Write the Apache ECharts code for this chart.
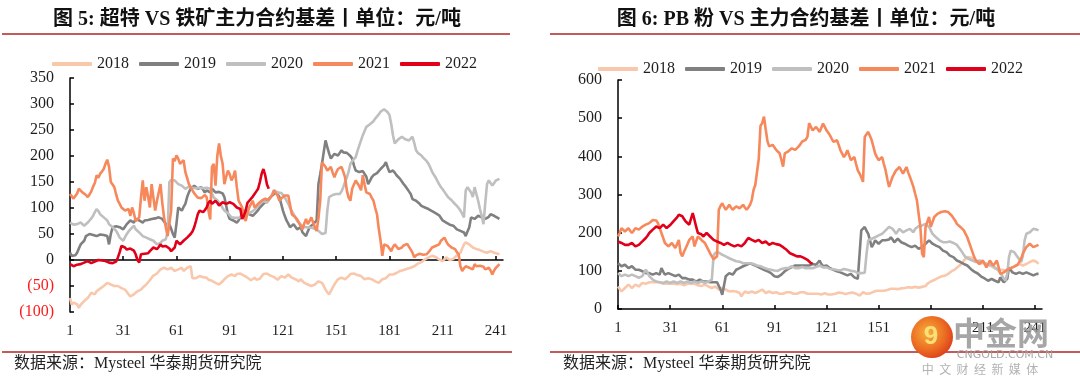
<!DOCTYPE html>
<html><head><meta charset="utf-8">
<script src="https://cdn.jsdelivr.net/npm/echarts@6/dist/echarts.min.js"></script>
<style>html,body{margin:0;padding:0;background:#fff}#c{width:1080px;height:388px}</style>
</head><body><div id="c"></div>
<script>
const days = []; for (let i = 1; i <= 245; i++) days.push(String(i));
const years = ['2018', '2019', '2020', '2021', '2022'];
const titleLeft = '图 5: 超特 VS 铁矿主力合约基差丨单位：元/吨';
const titleRight = '图 6: PB 粉 VS 主力合约基差丨单位：元/吨';
const sourceText = '数据来源：Mysteel 华泰期货研究院';

// Left chart: 超特 VS 铁矿
const L2018 = [-73,-86,-82,-79,-85,-92,-86,-83,-79,-76,
-73,-68,-63,-65,-66,-60,-57,-55,-54,-50,
-47,-44,-46,-47,-49,-50,-51,-50,-52,-54,
-55,-57,-61,-66,-70,-73,-66,-63,-60,-58,
-57,-53,-50,-47,-44,-39,-34,-30,-28,-26,
-24,-18,-17,-15,-16,-18,-16,-15,-18,-21,
-19,-18,-16,-15,-21,-18,-15,-13,-12,-35,
-37,-35,-33,-31,-31,-33,-34,-34,-38,-41,
-40,-41,-44,-46,-47,-44,-41,-37,-34,-31,
-30,-28,-30,-31,-27,-24,-26,-28,-30,-31,
-34,-37,-39,-41,-34,-38,-41,-36,-31,-27,
-24,-26,-28,-30,-31,-33,-34,-38,-41,-31,
-33,-34,-31,-28,-31,-34,-36,-37,-39,-41,
-37,-40,-44,-45,-47,-49,-50,-48,-47,-44,
-41,-43,-44,-50,-57,-62,-66,-60,-53,-47,
-42,-37,-35,-34,-36,-37,-34,-31,-27,-24,
-26,-28,-29,-28,-31,-34,-37,-36,-35,-34,
-37,-39,-41,-43,-44,-41,-37,-36,-35,-34,
-28,-29,-28,-28,-25,-23,-21,-20,-19,-18,
-17,-16,-15,-13,-12,-10,-7,-5,-4,-2,
1,3,5,7,8,8,6,3,1,-1,
-2,1,5,3,0,-2,2,5,9,12,
14,22,30,34,37,30,27,24,22,21,
20,19,17,16,15,14,16,17,16,14,
13,12,11];
const L2019 = [14,8,5,9,14,22,30,33,37,46,
48,50,50,48,47,46,48,49,50,48,
47,46,30,50,63,64,65,66,63,61,
59,64,69,72,76,74,72,79,78,76,
74,72,76,79,77,76,79,82,80,79,
82,85,79,74,69,68,69,60,50,43,
70,101,98,95,102,108,121,130,137,140,
143,140,137,139,140,135,130,134,137,130,
137,134,130,127,131,134,128,121,105,88,
79,78,76,74,72,76,82,88,95,94,
92,88,86,85,88,92,96,101,104,108,
111,114,117,121,124,127,131,134,121,108,
95,85,76,70,63,66,69,64,59,61,
63,53,50,46,55,63,66,69,72,76,
146,165,185,208,230,217,205,195,200,204,
202,201,206,211,207,204,206,208,200,195,
182,172,170,169,170,171,172,160,146,152,
159,163,166,167,169,175,178,182,188,178,
169,170,172,168,163,160,156,151,146,142,
137,132,127,117,116,114,111,108,104,101,
101,101,98,95,94,92,90,88,86,85,
76,74,72,69,68,67,66,63,59,58,
56,55,53,46,55,63,82,80,79,82,
85,84,82,80,79,79,83,88,86,85,
83,81,79];
const L2020 = [72,70,68,66,69,71,72,70,66,68,
72,76,80,85,92,98,94,88,85,82,
79,76,69,66,63,60,56,50,43,40,
37,44,50,55,59,62,66,59,56,53,
50,46,45,43,42,40,38,37,34,30,
31,33,37,38,40,53,150,154,152,153,
150,146,145,143,140,137,140,141,140,139,
140,138,137,139,140,138,137,139,140,137,
128,120,117,115,112,106,100,95,92,90,
86,82,80,81,79,81,83,85,87,88,
89,90,90,94,97,100,104,108,111,114,
112,110,115,120,127,134,132,130,128,129,
127,121,114,108,100,94,88,82,75,72,
68,66,63,62,63,63,62,61,60,58,
56,55,50,51,52,95,121,123,125,126,
127,128,127,132,140,150,159,170,185,190,
192,198,210,220,230,240,248,256,258,261,
263,267,272,275,280,285,288,290,288,284,
279,262,240,224,228,232,235,237,234,232,
231,230,233,237,225,211,206,203,201,197,
194,190,185,178,170,164,159,152,146,140,
136,131,126,121,118,115,111,108,104,100,
95,89,82,134,140,143,130,121,140,127,
114,98,85,69,110,146,153,150,143,148,
153,154,156];
const L2021 = [127,124,118,117,128,137,134,130,127,125,
121,126,132,141,148,163,158,166,170,175,
185,193,179,150,145,140,126,114,108,101,
98,95,97,98,85,101,90,75,78,82,
120,153,114,140,122,101,146,120,95,114,
130,146,110,82,63,46,70,95,195,190,
201,195,185,188,192,169,158,146,140,134,
128,124,120,117,119,121,125,121,95,78,
179,185,143,200,224,200,185,146,160,172,
165,153,160,172,140,114,108,101,85,75,
90,101,108,114,101,104,108,110,114,116,
118,121,116,114,125,134,128,124,114,118,
121,124,127,124,121,88,85,82,78,72,
65,59,70,79,69,75,82,72,63,56,
80,114,188,185,179,172,169,179,168,159,
168,175,178,179,170,159,134,120,114,137,
145,153,150,142,134,163,145,130,128,127,
120,114,100,88,60,37,8,30,28,27,
22,17,25,30,26,21,22,24,28,30,
31,30,20,14,5,9,11,12,11,10,
8,11,14,19,24,26,27,29,30,37,
40,43,36,30,27,24,22,21,15,11,
-12,-21,-16,-12,-14,-15,-17,-18,-8,-12,
-15,-11,-8,-13,-18,-16,-15,-20,-28,-20,
-15,-12,-8];
const L2022 = [-8,-10,-12,-11,-9,-10,-8,-7,-5,-3,
-2,-4,-6,-5,-3,-1,0,1,-1,-2,
-2,-3,-5,-4,-6,-8,-3,5,15,27,
28,24,20,17,22,24,18,11,0,-5,
11,14,12,11,13,17,20,24,22,21,
25,30,26,24,27,27,22,17,20,24,
37,34,30,33,37,40,43,46,50,55,
63,75,88,95,93,92,96,101,110,114,
108,108,114,110,105,108,111,109,108,110,
111,109,108,105,101,99,98,79,85,95,
110,114,117,122,127,132,137,150,166,175,
163,145,137];

// Right chart: PB 粉 VS 主力合约
const R2018 = [59,52,46,50,55,60,64,60,55,58,
64,62,59,63,68,64,66,68,70,72,
70,68,70,72,70,68,66,64,66,68,
66,64,66,68,65,64,66,64,62,64,
66,68,66,68,66,64,62,59,60,62,
64,61,59,57,55,57,59,56,51,53,
55,53,51,48,46,51,47,42,46,51,
42,33,40,46,44,42,44,46,44,42,
44,46,48,51,47,42,44,46,44,42,
46,44,42,40,38,40,42,44,46,44,
42,40,38,40,42,44,46,44,42,40,
38,40,42,40,38,40,42,38,40,41,
39,38,36,38,39,40,42,43,44,42,
40,39,40,42,44,43,44,40,37,35,
40,44,42,40,39,41,43,45,46,48,
47,48,49,48,48,50,52,53,52,53,
53,52,53,54,53,55,56,57,57,56,
57,58,57,56,57,58,57,60,66,70,
72,74,76,79,81,83,85,86,87,88,
92,96,99,101,104,108,112,114,120,127,
132,136,136,135,133,131,127,122,118,120,
123,120,118,116,114,112,109,106,101,103,
105,103,101,101,101,103,105,109,111,114,
116,118,116,114,116,118,120,123,125,127,
125,123,118];
const R2019 = [120,116,112,114,116,112,107,110,112,108,
103,103,103,101,99,97,94,94,94,92,
90,92,94,92,90,107,98,90,92,94,
92,90,88,86,88,90,86,81,81,81,
79,77,77,77,75,72,75,77,74,72,
72,72,72,70,68,70,72,70,68,51,
37,42,86,90,94,92,90,96,103,105,
107,110,112,114,116,118,120,118,116,114,
112,110,107,105,103,101,99,96,94,90,
86,81,84,86,90,94,99,103,105,107,
110,112,114,116,114,112,114,116,114,112,
114,116,118,120,116,112,127,118,112,109,
114,109,107,105,103,101,99,97,96,94,
92,90,88,90,92,88,83,81,79,83,
206,210,215,205,197,180,162,170,180,175,
171,176,180,184,180,175,182,188,182,175,
180,184,180,175,172,171,168,166,164,162,
164,166,162,158,160,162,166,171,176,180,
175,171,168,166,164,162,158,153,151,149,
145,140,138,136,131,127,125,123,120,118,
116,114,109,105,101,98,96,93,88,85,
83,80,79,74,77,79,76,74,72,70,
83,76,70,74,79,109,102,96,94,92,
94,96,94,92,94,96,94,92,90,88,
90,92,92];
const R2020 = [94,90,86,88,90,88,86,88,90,88,
86,84,82,81,86,90,103,95,86,82,
77,74,72,72,70,72,68,70,72,70,
68,70,72,70,68,70,72,70,68,70,
72,70,68,70,72,70,68,70,72,70,
68,70,72,75,77,140,147,151,148,145,
142,140,138,135,133,131,129,127,125,125,
124,122,120,120,120,121,120,120,118,116,
114,112,112,110,108,107,105,103,103,103,
101,99,100,103,105,107,107,107,107,110,
112,110,107,107,107,108,110,112,107,107,
107,107,107,108,110,112,114,111,109,109,
109,107,105,105,104,103,102,101,101,103,
105,104,103,101,100,101,99,97,94,92,
94,96,95,144,180,182,184,186,188,190,
193,195,197,201,206,210,215,212,210,204,
197,204,210,205,201,204,206,208,210,205,
201,210,215,217,219,219,220,223,219,215,
206,197,192,188,184,180,177,175,175,175,
180,177,175,173,171,168,162,156,149,142,
136,133,131,129,127,125,123,125,127,125,
123,120,118,118,116,114,112,109,105,101,
95,88,80,74,92,136,153,151,149,142,
136,130,123,140,180,197,199,201,205,210,
210,208,206];
const R2021 = [190,200,212,208,203,208,212,205,199,205,
212,210,208,212,216,218,221,223,225,229,
233,238,232,225,212,199,186,173,168,164,
168,173,166,160,170,181,147,138,150,160,
170,181,186,190,164,178,190,186,181,177,
173,164,155,146,138,130,125,138,260,270,
277,268,260,266,273,266,260,264,269,266,
264,268,273,266,260,266,273,286,312,325,
330,393,480,487,504,471,440,426,428,430,
424,417,412,408,391,373,408,410,413,417,
421,419,417,421,426,432,439,441,443,451,
487,490,468,470,477,471,464,475,486,477,
468,462,455,446,438,440,442,430,416,407,
398,405,416,403,390,394,398,380,363,355,
345,333,451,458,464,453,442,425,407,398,
390,394,398,380,363,340,320,333,346,355,
363,368,372,363,355,363,372,358,346,333,
320,302,285,250,215,145,136,215,228,241,
215,228,241,246,250,252,254,254,256,258,
254,250,245,241,232,223,219,215,210,206,
197,188,175,162,149,136,127,122,118,122,
127,118,109,118,127,120,114,120,127,110,
92,94,96,101,103,105,107,109,111,114,
116,118,132,145,154,162,166,171,166,162,
164,166,168];
const R2022 = [177,175,173,170,168,168,168,170,173,170,
164,166,168,172,177,182,186,192,199,204,
208,212,216,214,212,217,221,216,212,216,
220,225,230,234,240,247,245,243,236,229,
225,221,236,251,234,215,199,199,196,190,
195,199,194,190,186,181,179,177,175,173,
170,168,171,173,170,168,166,164,166,168,
166,164,168,173,180,186,183,181,179,177,
179,181,177,173,175,177,172,168,171,173,
168,170,173,168,164,162,160,155,151,146,
142,142,140,138,138,138,136,134,131,129,
124,120,120];

const leftData = [L2018, L2019, L2020, L2021, L2022];
const rightData = [R2018, R2019, R2020, R2021, R2022];
const colors = ['#F9C8AC', '#808080', '#BFBFBF', '#F7885B', '#E0001A'];

const serif = "'Liberation Serif', 'Noto Sans CJK SC', serif";
const txt = '#1e1e1e';
const sepColor = '#C25B5B';

function yAxis(gi, min, max, interval) {
  return {
    type: 'value', gridIndex: gi, min: min, max: max, interval: interval,
    axisLine: { show: true, lineStyle: { color: '#000', width: 1.5 } },
    axisTick: { show: true, inside: true, length: 4, lineStyle: { color: '#000', width: 1.5 } },
    splitLine: { show: false },
    axisLabel: {
      margin: 16,
      formatter: v => v < 0 ? '{n|(' + (-v) + ')}' : '{p|' + v + '}',
      rich: {
        n: { color: '#FF1A1A', fontSize: 16, fontFamily: serif },
        p: { color: txt, fontSize: 16, fontFamily: serif }
      }
    }
  };
}
function xAxis(gi) {
  return {
    type: 'category', gridIndex: gi, data: days, boundaryGap: false,
    axisLine: { show: true, lineStyle: { color: '#000', width: 1.5 } },
    axisTick: { show: true, inside: true, length: 4, interval: 29, lineStyle: { color: '#000', width: 1.5 } },
    axisLabel: { interval: 29, margin: 12, color: txt, fontSize: 15, fontFamily: serif },
    splitLine: { show: false }
  };
}
function legend(left, top) {
  return {
    data: years, left: left, top: top, itemWidth: 40, itemHeight: 4, itemGap: 10,
    icon: 'roundRect', padding: 0,
    textStyle: { color: txt, fontSize: 16, fontFamily: serif }
  };
}
const series = [];
years.forEach((y, i) => {
  series.push({ name: y, type: 'line', xAxisIndex: 0, yAxisIndex: 0, data: leftData[i],
    symbol: 'none', showSymbol: false, color: colors[i], lineStyle: { width: 2.6, color: colors[i] } });
});
years.forEach((y, i) => {
  series.push({ name: y, type: 'line', xAxisIndex: 1, yAxisIndex: 1, data: rightData[i],
    symbol: 'none', showSymbol: false, color: colors[i], lineStyle: { width: 2.6, color: colors[i] } });
});

const chart = echarts.init(document.getElementById('c'), null, { renderer: 'canvas' });
chart.setOption({
  animation: false,
  backgroundColor: '#fff',
  title: [
    { text: titleLeft, left: 257, top: 9, textAlign: 'center', padding: 0,
      textStyle: { fontSize: 20, fontWeight: 'bold', color: '#111', fontFamily: serif, lineHeight: 22 } },
    { text: titleRight, left: 806, top: 9, textAlign: 'center', padding: 0,
      textStyle: { fontSize: 20, fontWeight: 'bold', color: '#111', fontFamily: serif, lineHeight: 22 } },
    { text: sourceText, left: 14, top: 355, padding: 0,
      textStyle: { fontSize: 16, fontWeight: 'normal', color: '#222', fontFamily: serif, lineHeight: 18 } },
    { text: sourceText, left: 563, top: 355, padding: 0,
      textStyle: { fontSize: 16, fontWeight: 'normal', color: '#222', fontFamily: serif, lineHeight: 18 } }
  ],
  legend: [legend(52, 56), legend(598, 61)],
  grid: [
    { left: 70, top: 78, width: 433, height: 234 },
    { left: 618, top: 80, width: 424, height: 229 }
  ],
  xAxis: [xAxis(0), xAxis(1)],
  yAxis: [yAxis(0, -100, 350, 50), yAxis(1, 0, 600, 100)],
  series: series,
  graphic: [
    { type: 'line', shape: { x1: 2, y1: 34, x2: 510, y2: 34 }, style: { stroke: sepColor, lineWidth: 2 } },
    { type: 'line', shape: { x1: 550, y1: 34, x2: 1080, y2: 34 }, style: { stroke: sepColor, lineWidth: 2 } },
    { type: 'line', shape: { x1: 2, y1: 352, x2: 512, y2: 352 }, style: { stroke: sepColor, lineWidth: 2 } },
    { type: 'line', shape: { x1: 550, y1: 352, x2: 1080, y2: 352 }, style: { stroke: sepColor, lineWidth: 2 } },
    { type: 'circle', z: 100, shape: { cx: 932, cy: 337, r: 21 },
      style: { fill: new echarts.graphic.RadialGradient(0.4, 0.4, 0.7, [
        { offset: 0, color: '#F6B13A' }, { offset: 0.6, color: '#EC6A22' }, { offset: 1, color: '#D8361A' }]) } },
    { type: 'text', z: 101, x: 931, y: 337,
      style: { text: '9', fill: '#FBE07A', font: 'bold 26px sans-serif', textAlign: 'center', textVerticalAlign: 'middle' } },
    { type: 'text', z: 100, x: 1001, y: 333,
      style: { text: '中金网', fill: 'rgba(150,150,150,0.85)', font: 'bold 32px "Noto Sans CJK SC"', textAlign: 'center', textVerticalAlign: 'middle' } },
    { type: 'text', z: 100, x: 1005, y: 355,
      style: { text: 'CNGOLD.COM.CN', fill: 'rgba(160,160,160,0.9)', font: '11px "DejaVu Sans"', textAlign: 'center', textVerticalAlign: 'middle' } },
    { type: 'text', z: 100, x: 980, y: 369,
      style: { text: '中  文  财  经  新  媒  体', fill: 'rgba(170,170,170,0.9)', font: '12px "Noto Sans CJK SC"', textAlign: 'center', textVerticalAlign: 'middle' } }
  ]
});
</script></body></html>
